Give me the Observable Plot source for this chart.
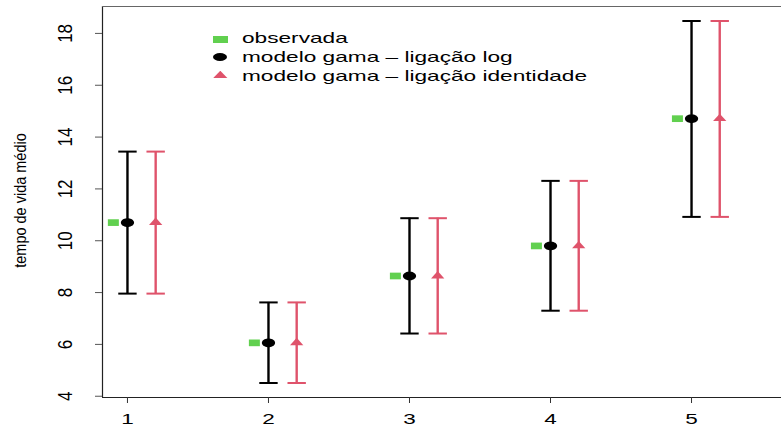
<!DOCTYPE html>
<html>
<head>
<meta charset="utf-8">
<script src="https://cdn.jsdelivr.net/npm/d3@7"></script>
<script src="https://cdn.jsdelivr.net/npm/@observablehq/plot@0.6"></script>
<style>
  body { margin: 0; background: #fff; font-family: "Liberation Sans", Arial, sans-serif; }
  #chart { position: relative; width: 781px; height: 426px; overflow: hidden; }
  .legend { position: absolute; left: 0; top: 0; width: 781px; height: 100px; pointer-events: none; }
  .legend .lab { position: absolute; left: 241.7px; font-size: 15px; line-height: 18.8px; white-space: nowrap;
                 color: #000; transform: scaleX(1.51); transform-origin: 0 50%; }
  .legend .mk { position: absolute; }
  .mk.sq  { width: 15px; height: 6.7px; background: #61D04F; }
  .mk.ci  { width: 14px; height: 8px; background: #000; border-radius: 50%; }
  .mk.tr  { width: 14.6px; height: 7.7px; background: #DF536B; clip-path: polygon(50% 0, 100% 100%, 0 100%); }
</style>
</head>
<body>
<div id="chart"></div>
<script>
// Group identifiers and tick labels
const groups = [1, 2, 3, 4, 5];
const yTicks = [4, 6, 8, 10, 12, 14, 16, 18];

// Observed mean lifetime per group
const observed = [10.70, 6.06, 8.64, 9.80, 14.71];

// Gamma model, log link: fitted means and interval limits
const logFit   = [10.70, 6.06, 8.64, 9.80, 14.71];
const logLower = [7.96, 4.51, 6.42, 7.30, 10.92];
const logUpper = [13.44, 7.62, 10.87, 12.31, 18.48];

// Gamma model, identity link: fitted means and interval limits
const idFit   = [10.70, 6.06, 8.64, 9.80, 14.71];
const idLower = [7.96, 4.51, 6.42, 7.30, 10.92];
const idUpper = [13.44, 7.62, 10.87, 12.31, 18.48];

const legendLabels = ["observada", "modelo gama \u2013 liga\u00e7\u00e3o log", "modelo gama \u2013 liga\u00e7\u00e3o identidade"];

const GREEN = "#61D04F", RED = "#DF536B", BLACK = "#000";

// horizontal dodge of each series around its group
const OFF_OBS = -0.1, OFF_LOG = 0, OFF_ID = 0.2;

const obsRows = groups.map((g, i) => ({x: g + OFF_OBS, y: observed[i]}));
const logRows = groups.map((g, i) => ({x: g + OFF_LOG, y: logFit[i], lo: logLower[i], hi: logUpper[i]}));
const idRows  = groups.map((g, i) => ({x: g + OFF_ID, y: idFit[i], lo: idLower[i], hi: idUpper[i]}));
const capRows = [...logRows.flatMap(d => [{x: d.x, y: d.lo, c: BLACK}, {x: d.x, y: d.hi, c: BLACK}]),
                 ...idRows.flatMap(d => [{x: d.x, y: d.lo, c: RED}, {x: d.x, y: d.hi, c: RED}])];

// y range padded by 4% on each side, as base graphics does
const allY = [...observed, ...logLower, ...logUpper, ...idLower, ...idUpper];
const yMin = d3.min(allY), yMax = d3.max(allY), yPad = 0.04 * (yMax - yMin);
const yDomain = [yMin - yPad, yMax + yPad];
const xDomain = [0.823, 5.638];

// point symbols (slightly wide, like the device aspect of the original plot)
const ellipse = {draw(ctx) { const rx = 6.6, ry = 4.35; ctx.moveTo(rx, 0);
  for (let i = 1; i <= 40; i++) { const a = i / 40 * 2 * Math.PI; ctx.lineTo(rx * Math.cos(a), ry * Math.sin(a)); } ctx.closePath(); }};
const rectSym = {draw(ctx) { ctx.rect(-5.5, -3.35, 11, 6.7); }};
const triSym = {draw(ctx) { ctx.moveTo(0, -5); ctx.lineTo(6.65, 2.4); ctx.lineTo(-6.65, 2.4); ctx.closePath(); }};
const capSym = {draw(ctx) { ctx.moveTo(-9.2, 0); ctx.lineTo(9.2, 0); }};

const plot = Plot.plot({
  width: 781,
  height: 426,
  marginLeft: 102,
  marginRight: 0,
  marginTop: 6,
  marginBottom: 29,
  style: {fontFamily: "'Liberation Sans', Arial, sans-serif", fontSize: "15px", background: "#fff"},
  x: {domain: xDomain},
  y: {domain: yDomain},
  marks: [
    // box: left, top, bottom
    Plot.ruleX([xDomain[0]], {stroke: "#222", strokeWidth: 1.2}),
    Plot.ruleY([yDomain[0]], {stroke: "#222", strokeWidth: 1.2}),
    Plot.ruleY([yDomain[1]], {stroke: "#666", strokeWidth: 1.2}),
    Plot.axisY({ticks: yTicks, tickSize: 7, tickRotate: -90, tickPadding: 24, fontSize: 17,
                stroke: "#555", label: null, tickFormat: d => d}),
    Plot.axisX({ticks: groups, tickSize: 6, tickPadding: 10, fontSize: 15,
                stroke: "#333", label: null, tickFormat: d => d}),
    Plot.text(["tempo de vida m\u00e9dio"], {frameAnchor: "left", textAnchor: "middle", rotate: -90,
                dx: -81.5, dy: -1.5, fontSize: 14.5, fill: "#000"}),
    // interval bars
    Plot.ruleX(logRows, {x: "x", y1: "lo", y2: "hi", stroke: BLACK, strokeWidth: 2.4}),
    Plot.ruleX(idRows, {x: "x", y1: "lo", y2: "hi", stroke: RED, strokeWidth: 2.4}),
    Plot.dot(capRows, {x: "x", y: "y", symbol: capSym, stroke: "c", fill: "none", strokeWidth: 2}),
    // point estimates
    Plot.dot(obsRows, {x: "x", y: "y", symbol: rectSym, fill: GREEN, stroke: "none"}),
    Plot.dot(logRows, {x: "x", y: "y", symbol: ellipse, fill: BLACK, stroke: "none"}),
    Plot.dot(idRows, {x: "x", y: "y", symbol: triSym, fill: RED, stroke: "none"})
  ]
});

// widen the x tick labels around their anchor
d3.select(plot).selectAll('g[aria-label="x-axis tick label"] text')
  .attr("transform", function () { return (this.getAttribute("transform") || "") + " scale(1.5,1)"; });

// thicken the rotated y labels and title along the screen x direction
d3.select(plot).selectAll('g[aria-label="y-axis tick label"] text, g[aria-label="text"] text')
  .attr("transform", function () {
    const t = this.getAttribute("transform") || "";
    return t.includes("rotate(") ? t.replace("rotate(", "scale(1.15,1) rotate(") : t + " scale(1.15,1)";
  });

const chart = document.getElementById("chart");
chart.appendChild(plot);

// legend drawn inside the plotting area
const legend = document.createElement("div");
legend.className = "legend";
const markerClass = ["sq", "ci", "tr"];
const markerSize = [[15, 6.7], [14, 8], [14.6, 7.7]];
const markerCenterY = [39.3, 56.7, 74.5];
const rowTop = [29.4, 48.2, 67.0];
legendLabels.forEach((t, i) => {
  const mk = document.createElement("span");
  mk.className = "mk " + markerClass[i];
  mk.style.left = (220.3 - markerSize[i][0] / 2) + "px";
  mk.style.top = (markerCenterY[i] - markerSize[i][1] / 2) + "px";
  legend.appendChild(mk);
  const lab = document.createElement("span");
  lab.className = "lab";
  lab.style.top = rowTop[i] + "px";
  lab.textContent = t;
  legend.appendChild(lab);
});
chart.appendChild(legend);
</script>
</body>
</html>
